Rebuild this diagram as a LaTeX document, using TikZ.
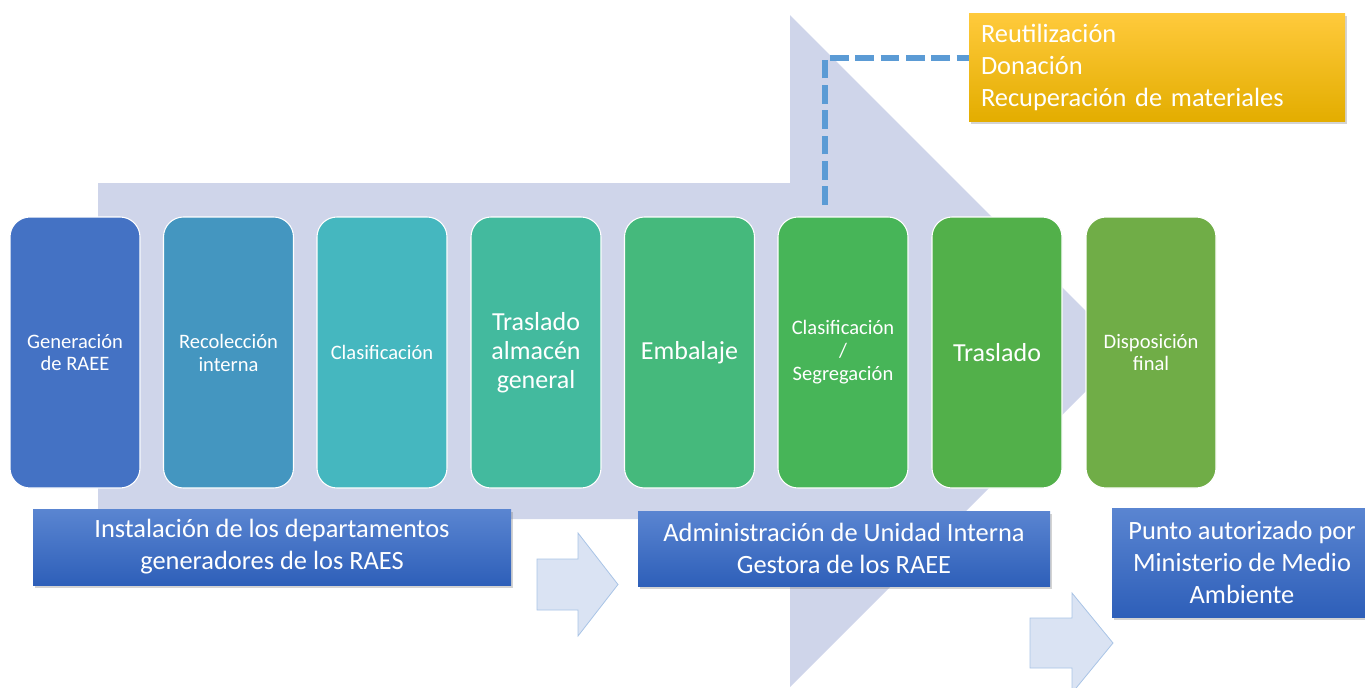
\documentclass[tikz,border=0pt]{standalone}
\usepackage{fontspec}
\setmainfont{Carlito}
\usepackage{tikz}
\usetikzlibrary{shadows, calc}

\definecolor{paso1}{HTML}{4472C4}
\definecolor{paso2}{HTML}{4496C0}
\definecolor{paso3}{HTML}{45B7BF}
\definecolor{paso4}{HTML}{43BA9E}
\definecolor{paso5}{HTML}{45B97C}
\definecolor{paso6}{HTML}{47B558}
\definecolor{paso7}{HTML}{52B04A}
\definecolor{paso8}{HTML}{70AD47}
\definecolor{flechagrande}{HTML}{CFD5EA}
\definecolor{flechachica}{HTML}{DAE3F3}
\definecolor{bordechica}{HTML}{A9C4E6}
\definecolor{azularriba}{HTML}{5A85D1}
\definecolor{azulabajo}{HTML}{2E5FB9}
\definecolor{lineaazul}{HTML}{5B9BD5}
\definecolor{oroarriba}{HTML}{FFCA3C}
\definecolor{oromedio}{HTML}{FFC000}
\definecolor{oroabajo}{HTML}{E3AD00}

\begin{document}
\begin{tikzpicture}[x=0.75pt, y=-0.75pt,
    paso/.style={draw=white, line width=0.8pt, rounded corners=15pt,
        minimum width=97.5pt, minimum height=203.25pt, text=white, align=center, inner sep=2pt},
    chico/.style={font=\fontsize{15.4}{17.2}\selectfont},
    grande/.style={font=\fontsize{19.5}{21.8}\selectfont},
    etiqueta/.style={top color=azularriba, bottom color=azulabajo, text=white, align=center,
        font=\fontsize{19.8}{24}\selectfont,
        drop shadow={shadow xshift=1.5pt, shadow yshift=-2pt, opacity=0.35}},
    flechita/.style={fill=flechachica, draw=bordechica, line width=0.6pt},
    dashline/.style={draw=lineaazul, line width=4pt, dash pattern=on 14pt off 5pt}]
    \clip (0,0) rectangle (1365,687);

    % flecha de fondo
    \fill[flechagrande] (98,183) -- (790,183) -- (790,15) -- (1126,351)
        -- (790,687) -- (790,519) -- (98,519) -- cycle;

    % flechas pequenas
    \draw[flechita] (537,559) -- (578,559) -- (578,533) -- (618,584.5)
        -- (578,636) -- (578,610) -- (537,610) -- cycle;
    \draw[flechita] (1030,618) -- (1072,618) -- (1072,593) -- (1113,643)
        -- (1072,693) -- (1072,668) -- (1030,668) -- cycle;

    % pasos del proceso
    \node[paso, chico, fill=paso1] (gen) at (75,352.5) {Generación\\de RAEE};
    \node[paso, chico, fill=paso2] (reco) at (228.5,352.5) {Recolección\\interna};
    \node[paso, chico, fill=paso3] (clas) at (382,352.5) {Clasificación};
    \node[paso, grande, fill=paso4] (alma) at (536,352.5) {Traslado\\almacén\\general};
    \node[paso, grande, fill=paso5] (emba) at (689.5,352.5) {Embalaje};
    \node[paso, chico, fill=paso6] (segr) at (843,352.5) {Clasificación\\/\\Segregación};
    \node[paso, grande, fill=paso7] (tras) at (997,352.5) {Traslado};
    \node[paso, chico, fill=paso8] (disp) at (1151,352.5) {Disposición\\final};

    % aprovechamiento
    \node[top color=oroarriba, middle color=oromedio, bottom color=oroabajo, text=white,
        align=left, text width=264pt, inner xsep=9pt, minimum height=81pt,
        font=\fontsize{19.8}{24}\selectfont,
        drop shadow={shadow xshift=1.5pt, shadow yshift=-2pt, opacity=0.35}]
        (reuso) at (1157,67) {Reutilización\\Donación\\Recuperación de materiales};
    \coordinate (salida) at (825,205);
    \draw[dashline] (salida) |- ($(reuso.west)+(0,-9)$);

    % responsables
    \node[etiqueta, minimum width=358.5pt, minimum height=57pt] (inst) at (272,547)
        {Instalación de los departamentos\\generadores de los RAES};
    \node[etiqueta, minimum width=309pt, minimum height=56.25pt] (admin) at (844,548.5)
        {Administración de Unidad Interna\\Gestora de los RAEE};
    \node[etiqueta, minimum width=195pt, minimum height=81.75pt] (punto) at (1242,562.5)
        {Punto autorizado por\\Ministerio de Medio\\Ambiente};
\end{tikzpicture}
\end{document}
